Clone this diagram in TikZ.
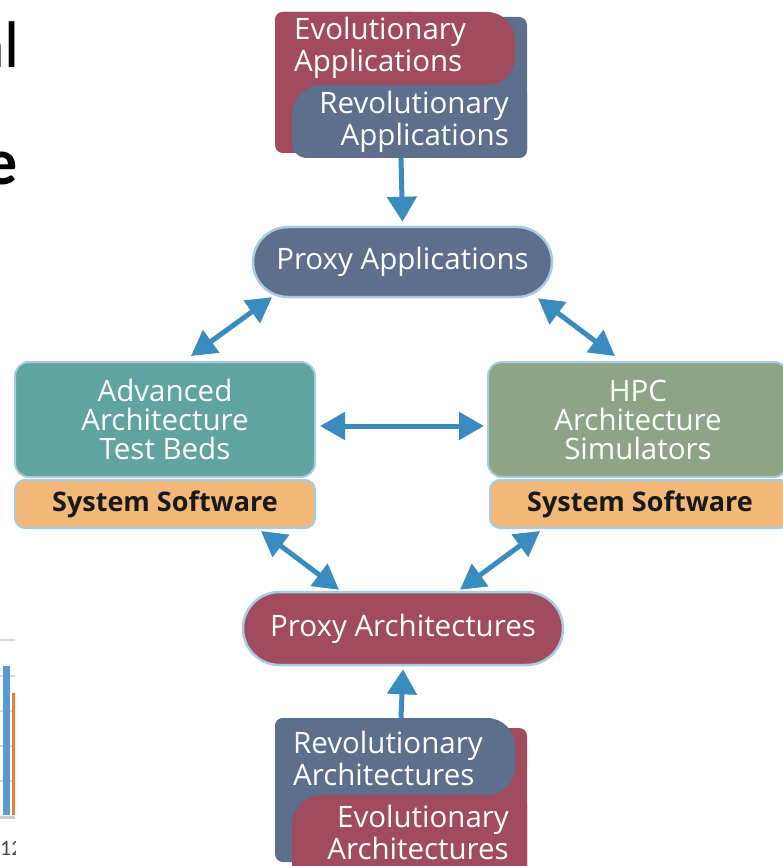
\documentclass[tikz,border=0pt]{standalone}
\usepackage{fontspec}
\setmainfont{Open Sans}
\newfontfamily\slidefont{Carlito}
\usepackage{xcolor}
\usepackage{tikz}
\usetikzlibrary{shapes.misc, arrows.meta, positioning, calc}

\definecolor{slate}{RGB}{92,111,141}
\definecolor{wine}{RGB}{160,76,94}
\definecolor{bedteal}{RGB}{95,164,158}
\definecolor{simgreen}{RGB}{141,165,132}
\definecolor{swlayer}{RGB}{242,184,122}
\definecolor{rim}{RGB}{168,204,228}
\definecolor{flow}{RGB}{58,140,190}
\definecolor{barblue}{RGB}{91,155,213}
\definecolor{barorange}{RGB}{237,125,49}

\begin{document}
\begin{tikzpicture}[
        x=1pt, y=-1pt,
        pill/.style={rounded rectangle, draw=rim, line width=2.5pt, text=white, inner sep=0pt, font=\fontsize{29.5}{32}\selectfont},
        block/.style={rectangle, rounded corners=14pt, draw=rim, line width=2pt, text=white, minimum width=300pt, minimum height=115pt, align=center, font=\fontsize{29.5}{29}\selectfont},
        layer/.style={rectangle, rounded corners=10pt, fill=swlayer, draw=rim, line width=2pt, minimum width=300pt, minimum height=48pt, text=black!90, font=\bfseries\fontsize{27}{30}\selectfont},
        tag/.style={inner sep=0pt, text=white, font=\fontsize{29.5}{32}\selectfont},
        arrow/.style={draw=flow, line width=5pt, -{Triangle[width=29pt, length=25pt]}},
        dblarrow/.style={arrow, {Triangle[width=27pt, length=25pt]}-{Triangle[width=27pt, length=25pt]}}
    ]
    \useasboundingbox (0,0) rectangle (782,866);

    % slide leftovers
    \node[anchor=base west, inner sep=0pt, font=\slidefont\fontsize{66}{70}\selectfont] (titlea) at (-27,68) {al};
    \node[anchor=base west, inner sep=0pt, font=\slidefont\bfseries\fontsize{66}{70}\selectfont] (titleb) at (-16,185) {e};
    \begin{scope}
        \clip (0,600) rectangle (15,866);
        \foreach \gy in {640,676,711,746,781} {
            \draw[black!15, line width=2pt] (0,\gy) -- (15,\gy);
        }
        \draw[black!20, line width=3pt] (0,817) -- (15,817);
        \fill[barblue] (3,666) rectangle (10,815);
        \fill[barorange] (12,693) rectangle (16,815);
        \node[anchor=base west, inner sep=0pt, text=black!70, font=\slidefont\fontsize{22}{24}\selectfont] (axistick) at (0,855) {12};
    \end{scope}

    % Applications
    \fill[slate, rounded corners=8pt] (420,17) rectangle (527,158);
    \fill[wine, rounded corners=8pt] (275,12) rectangle (420,153);
    \fill[wine] (275,85) [rounded corners=8pt] -- (275,12) [rounded corners=28pt] -- (515,12) -- (515,85) [sharp corners] -- cycle;
    \fill[slate] (527,85) [rounded corners=30pt] -- (292,85) [rounded corners=15pt] -- (292,158) [rounded corners=8pt] -- (527,158) -- cycle;
    \node[inner sep=0pt, minimum width=252pt, minimum height=146pt] (apps) at (401,85) {};
    \node[tag, align=left, anchor=west] (evoapp) at (294,48) {Evolutionary\\Applications};
    \node[tag, align=right, anchor=east] (revoapp) at (509,122) {Revolutionary\\Applications};

    \node[pill, fill=slate, minimum width=299pt, minimum height=70pt] (proxyapp) at (402.5,262) {Proxy Applications};

    % Test beds and simulators
    \node[block, fill=bedteal] (testbed) at (165,419.5) {Advanced\\Architecture\\Test Beds};
    \node[layer] (softleft) at (165,504) {System Software};
    \node[block, fill=simgreen] (hpcsim) at (638,419.5) {HPC\\Architecture\\Simulators};
    \node[layer] (softright) at (640,504) {System Software};

    \node[pill, fill=wine, minimum width=320pt, minimum height=73pt] (proxyarch) at (403,628.5) {Proxy Architectures};

    % Architectures
    \fill[wine, rounded corners=8pt] (420,728) rectangle (527,880);
    \fill[slate, rounded corners=8pt] (275,718) rectangle (420,862);
    \fill[slate] (275,795) [rounded corners=8pt] -- (275,718) [rounded corners=28pt] -- (515,718) -- (515,795) [sharp corners] -- cycle;
    \fill[wine] (527,795) [rounded corners=30pt] -- (292,795) [rounded corners=15pt] -- (292,880) [rounded corners=8pt] -- (527,880) -- cycle;
    \node[inner sep=0pt, minimum width=252pt, minimum height=148pt] (archs) at (401,792) {};
    \node[tag, align=left, anchor=west] (revoarch) at (293,758) {Revolutionary\\Architectures};
    \node[tag, align=right, anchor=east] (evoarch) at (509,832) {Evolutionary\\Architectures};

    % connectors
    \draw[arrow] (apps.south) -- ($(proxyapp.north)+(0,-4)$);
    \draw[arrow] (archs.north) -- ($(proxyarch.south)+(0,3)$);
    \draw[dblarrow] ($(proxyapp.south)+(-130.5,-1)$) -- ($(testbed.north)+(26,-5)$);
    \draw[dblarrow] ($(proxyapp.south)+(135.5,0)$) -- ($(hpcsim.north)+(-23,-5)$);
    \draw[dblarrow] ($(testbed.east)+(4,6.5)$) -- ($(hpcsim.west)+(-3,6.5)$);
    \draw[dblarrow] ($(softleft.south)+(96,2)$) -- ($(proxyarch.north)+(-64,-1)$);
    \draw[dblarrow] ($(softright.south)+(-100,2)$) -- ($(proxyarch.north)+(57,-1)$);

\end{tikzpicture}
\end{document}
